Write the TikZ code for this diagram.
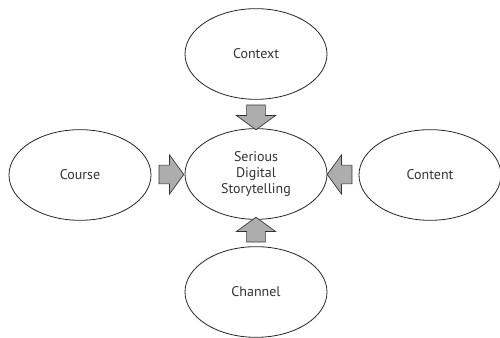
\documentclass[tikz,border=0pt]{standalone}
\usepackage{fontspec}
\setmainfont{PT Sans}
\usetikzlibrary{calc,shapes.geometric,shapes.arrows}

\begin{document}
\begin{tikzpicture}[x=0.75pt,y=-0.75pt]
     \tikzstyle{oval}=[draw=black!85, line width=0.6pt, ellipse, inner sep=0pt,
       minimum width=106.5pt, minimum height=68pt, text=black!80, font=\fontsize{10.5}{12.2}\selectfont, align=center]

     \tikzstyle{blockarrow}=[draw=black!80, fill=black!32, line width=0.5pt, single arrow,
       inner xsep=0pt, inner ysep=6.8pt, single arrow head extend=7.6pt,
       single arrow tip angle=108, single arrow head indent=0pt, minimum height=18.5pt]

     \useasboundingbox (0,0) rectangle (500,338);

     \node[oval] (SDS) at (256,174) {Serious\\Digital\\Storytelling};
     \node[oval] (CTX) at (256,54) {Context};
     \node[oval] (CRS) at (80,175) {Course};
     \node[oval] (CNT) at (430,175) {Content};
     \node[oval] (CHN) at (256,292) {Channel};

     \node[blockarrow, rotate=-90] (A1) at ($(CTX.south)!0.5!(SDS.north)$) {};
     \node[blockarrow] (A2) at ($(CRS.east)!0.5!(SDS.west)$) {};
     \node[blockarrow, rotate=180] (A3) at ($(CNT.west)!0.5!(SDS.east)$) {};
     \node[blockarrow, rotate=90] (A4) at ($(CHN.north)!0.5!(SDS.south)$) {};
   \end{tikzpicture}
\end{document}
